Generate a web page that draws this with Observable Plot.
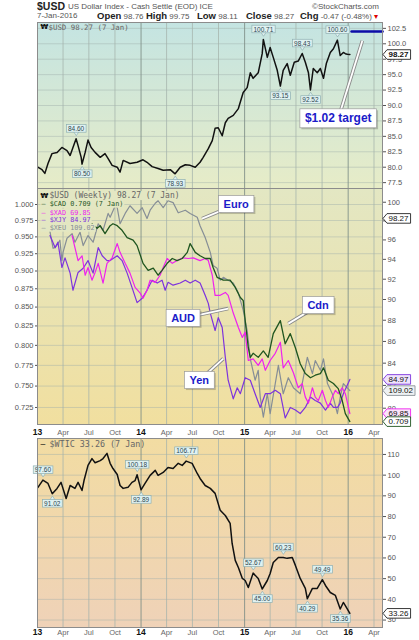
<!DOCTYPE html>
<html><head><meta charset="utf-8">
<script src="https://cdn.jsdelivr.net/npm/d3@7"></script>
<script src="https://cdn.jsdelivr.net/npm/@observablehq/plot@0.6"></script>
<style>
body{margin:0;background:#fff;}
#wrap{position:relative;width:419px;height:640px;overflow:hidden;background:#fff;font-family:"Liberation Sans",Arial,sans-serif;}
.panel{position:absolute;left:0;width:419px;}
.h{position:absolute;white-space:nowrap;line-height:1;color:#555;font-family:"Liberation Sans",Arial,sans-serif;font-size:8px;}
.h b{font-size:9.5px;color:#222;}
</style></head><body>
<div id="wrap">
<svg width="0" height="0" style="position:absolute"><defs>
<linearGradient id="gTop" x1="0" y1="0" x2="0" y2="1"><stop offset="0" stop-color="#c4e4e2"/><stop offset="1" stop-color="#e7ecc7"/></linearGradient>
<linearGradient id="gMid" x1="0" y1="0" x2="0" y2="1"><stop offset="0" stop-color="#e3e7c3"/><stop offset="1" stop-color="#f1df9f"/></linearGradient>
<linearGradient id="gBot" x1="0" y1="0" x2="0" y2="1"><stop offset="0" stop-color="#f2dca2"/><stop offset="1" stop-color="#efd2b8"/></linearGradient>
</defs></svg>
<span class="h" style="left:37px;top:1px;font-size:10.5px;font-weight:bold;color:#222">$USD</span>
<span class="h" style="left:68px;top:3px;">US Dollar Index - Cash Settle (EOD) ICE</span>
<span class="h" style="left:312px;top:3px;">©StockCharts.com</span>
<span class="h" style="left:37px;top:12px;">7-Jan-2016</span>
<span class="h" style="left:97px;top:11px;"><b>Open</b> 98.76</span>
<span class="h" style="left:146px;top:11px;"><b>High</b> 99.75</span>
<span class="h" style="left:197px;top:11px;"><b>Low</b> 98.11</span>
<span class="h" style="left:246px;top:11px;"><b>Close</b> 98.27</span>
<span class="h" style="left:300px;top:11px;"><b>Chg</b> -0.47 (-0.48%) <span style="color:#d00">▾</span></span>
<div id="p1" class="panel" style="top:18px"></div>
<div id="p2" class="panel" style="top:186px"></div>
<div id="p3" class="panel" style="top:436px"></div>
</div>
<script>
// ---------- tick labels ----------
const monthTickDates = ["2013-04-01","2013-07-01","2013-10-01","2014-04-01","2014-07-01","2014-10-01","2015-04-01","2015-07-01","2015-10-01","2016-04-01"];
const monthTickLabels = ["Apr","Jul","Oct","Apr","Jul","Oct","Apr","Jul","Oct","Apr"];
const yearTickDates = ["2013-01-01","2014-01-01","2015-01-01","2016-01-01"];
const yearTickLabels = ["13","14","15","16"];
const usdTicks = [77.5,80,82.5,85,87.5,90,92.5,95,97.5,100,102.5];
const midLeftTicks = [0.725,0.75,0.775,0.8,0.825,0.85,0.875,0.9,0.925,0.95,0.975,1.0];
const midRightTicks = [80,82,84,86,88,90,92,94,96,98,100];
const wticTicks = [30,40,50,60,70,80,90,100,110];

// ---------- $USD daily (top panel) ----------
const usdSeries = [["2013-01-02",80.0],["2013-01-17",79.6],["2013-01-27",79.0],["2013-02-07",80.6],["2013-02-21",82.2],["2013-03-11",82.4],["2013-03-28",83.2],["2013-04-15",82.7],["2013-04-26",81.9],["2013-05-06",83.2],["2013-05-17",84.6],["2013-05-24",83.5],["2013-06-04",81.6],["2013-06-07",80.5],["2013-06-18",82.4],["2013-06-28",84.4],["2013-07-09",83.2],["2013-07-23",82.4],["2013-08-10",81.6],["2013-08-27",82.2],["2013-09-07",81.4],["2013-09-21",80.3],["2013-10-09",80.0],["2013-10-19",79.2],["2013-10-30",81.1],["2013-11-23",80.6],["2013-12-18",80.8],["2014-01-08",81.2],["2014-01-22",80.8],["2014-02-09",80.1],["2014-03-02",79.8],["2014-03-20",79.5],["2014-04-14",79.6],["2014-05-01",78.93],["2014-05-19",80.0],["2014-06-06",80.4],["2014-06-23",80.3],["2014-07-11",80.0],["2014-07-28",80.8],["2014-08-08",81.6],["2014-08-26",83.0],["2014-09-09",84.3],["2014-09-19",86.3],["2014-09-30",86.4],["2014-10-14",85.1],["2014-10-25",87.2],["2014-11-04",87.9],["2014-11-22",88.4],["2014-12-10",89.5],["2014-12-27",92.1],["2015-01-10",92.9],["2015-01-21",95.3],["2015-01-31",94.4],["2015-02-18",95.3],["2015-03-04",98.4],["2015-03-08",100.71],["2015-03-22",97.8],["2015-04-01",99.4],["2015-04-12",97.8],["2015-04-26",95.7],["2015-05-07",93.15],["2015-05-17",95.7],["2015-05-31",96.8],["2015-06-11",94.9],["2015-06-25",97.0],["2015-07-09",97.2],["2015-07-23",98.43],["2015-08-03",97.0],["2015-08-14",95.3],["2015-08-21",92.52],["2015-08-31",96.0],["2015-09-14",95.3],["2015-09-25",96.0],["2015-10-06",94.4],["2015-10-16",96.8],["2015-10-30",98.6],["2015-11-10",99.2],["2015-11-24",100.60],["2015-12-04",98.1],["2015-12-15",98.6],["2015-12-22",98.4],["2015-12-29",98.3],["2016-01-07",98.27]];
const usdFlags = [["2013-05-17",84.60,"up"],["2013-06-07",80.50,"down"],["2014-05-01",78.93,"down"],["2015-03-08",100.71,"up"],["2015-05-07",93.15,"down"],["2015-07-23",98.43,"up"],["2015-08-21",92.52,"down"],["2015-11-24",100.60,"up"]];
const usdTarget = [["2016-01-13",102],["2016-05-01",102]];
const usdLast = 98.27;

// ---------- weekly overlays (middle panel), plotted on the $CAD scale ----------
const cadSeries = [["2013-07-12",0.970],["2013-07-30",0.963],["2013-08-10",0.967],["2013-08-27",0.955],["2013-09-14",0.967],["2013-09-24",0.970],["2013-10-09",0.967],["2013-10-26",0.960],["2013-11-13",0.949],["2013-12-04",0.945],["2013-12-18",0.937],["2014-01-08",0.911],["2014-01-26",0.901],["2014-02-13",0.904],["2014-03-02",0.894],["2014-03-16",0.901],["2014-04-03",0.911],["2014-04-21",0.918],["2014-05-08",0.915],["2014-05-26",0.918],["2014-06-13",0.927],["2014-06-23",0.940],["2014-07-11",0.927],["2014-07-28",0.922],["2014-08-15",0.918],["2014-09-02",0.918],["2014-09-12",0.905],["2014-09-26",0.891],["2014-10-18",0.887],["2014-11-11",0.887],["2014-11-29",0.877],["2014-12-17",0.863],["2014-12-27",0.859],["2015-01-03",0.832],["2015-01-14",0.797],["2015-01-21",0.785],["2015-01-31",0.790],["2015-02-18",0.785],["2015-03-08",0.793],["2015-03-25",0.785],["2015-04-12",0.815],["2015-05-07",0.832],["2015-05-24",0.802],["2015-06-11",0.815],["2015-06-29",0.797],["2015-07-16",0.777],["2015-08-03",0.765],["2015-08-21",0.760],["2015-09-07",0.763],["2015-09-25",0.765],["2015-10-06",0.772],["2015-10-23",0.757],["2015-11-10",0.753],["2015-11-27",0.747],["2015-12-11",0.733],["2015-12-22",0.718],["2016-01-07",0.709]];
const xadSeries = [["2013-05-03",0.952],["2013-05-13",0.934],["2013-05-24",0.915],["2013-06-07",0.922],["2013-06-18",0.894],["2013-06-28",0.905],["2013-07-12",0.887],["2013-07-23",0.898],["2013-08-03",0.911],["2013-08-20",0.883],["2013-09-03",0.911],["2013-09-21",0.919],["2013-10-09",0.940],["2013-10-19",0.927],["2013-11-06",0.911],["2013-11-23",0.897],["2013-12-11",0.877],["2013-12-29",0.869],["2014-01-08",0.862],["2014-01-22",0.873],["2014-02-02",0.887],["2014-02-20",0.884],["2014-03-09",0.894],["2014-03-20",0.905],["2014-04-03",0.918],["2014-04-21",0.911],["2014-05-08",0.915],["2014-05-29",0.919],["2014-06-16",0.918],["2014-07-04",0.919],["2014-07-28",0.915],["2014-08-15",0.918],["2014-08-26",0.915],["2014-09-09",0.894],["2014-09-19",0.866],["2014-10-07",0.866],["2014-10-25",0.870],["2014-11-04",0.866],["2014-11-22",0.842],["2014-12-10",0.823],["2014-12-24",0.810],["2015-01-03",0.817],["2015-01-14",0.781],["2015-01-31",0.783],["2015-02-18",0.775],["2015-03-04",0.783],["2015-03-15",0.769],["2015-04-01",0.781],["2015-04-19",0.790],["2015-05-07",0.804],["2015-05-17",0.772],["2015-06-04",0.781],["2015-06-22",0.766],["2015-07-09",0.748],["2015-07-23",0.753],["2015-08-03",0.737],["2015-08-14",0.730],["2015-08-28",0.748],["2015-09-07",0.737],["2015-09-18",0.733],["2015-10-02",0.745],["2015-10-13",0.733],["2015-10-23",0.725],["2015-11-06",0.737],["2015-11-17",0.745],["2015-11-27",0.741],["2015-12-11",0.748],["2015-12-22",0.741],["2016-01-07",0.718]];
const xjySeries = [["2013-02-14",0.952],["2013-03-04",0.934],["2013-03-14",0.942],["2013-03-28",0.905],["2013-04-08",0.919],["2013-04-26",0.897],["2013-05-06",0.873],["2013-05-24",0.898],["2013-06-11",0.904],["2013-06-28",0.915],["2013-07-16",0.897],["2013-08-03",0.934],["2013-08-17",0.922],["2013-09-03",0.915],["2013-09-14",0.915],["2013-10-09",0.922],["2013-10-26",0.915],["2013-11-13",0.897],["2013-11-30",0.877],["2013-12-18",0.856],["2014-01-05",0.862],["2014-01-22",0.873],["2014-02-09",0.887],["2014-02-27",0.883],["2014-03-16",0.887],["2014-03-27",0.873],["2014-04-06",0.884],["2014-04-24",0.880],["2014-05-19",0.883],["2014-06-06",0.887],["2014-06-23",0.883],["2014-07-11",0.887],["2014-07-28",0.883],["2014-08-15",0.866],["2014-08-26",0.855],["2014-09-02",0.842],["2014-09-19",0.819],["2014-09-30",0.836],["2014-10-14",0.823],["2014-10-25",0.785],["2014-11-04",0.757],["2014-11-22",0.735],["2014-12-06",0.748],["2014-12-17",0.741],["2015-01-03",0.760],["2015-01-21",0.757],["2015-02-07",0.741],["2015-02-25",0.725],["2015-03-15",0.741],["2015-04-01",0.741],["2015-04-19",0.745],["2015-05-07",0.741],["2015-05-24",0.713],["2015-06-11",0.725],["2015-06-29",0.722],["2015-07-16",0.718],["2015-08-03",0.725],["2015-08-21",0.737],["2015-09-07",0.733],["2015-09-25",0.730],["2015-10-13",0.722],["2015-10-30",0.730],["2015-11-10",0.725],["2015-11-24",0.725],["2015-12-04",0.730],["2015-12-15",0.741],["2016-01-07",0.758]];
const xeuSeries = [["2013-02-14",0.958],["2013-02-25",0.933],["2013-03-04",0.934],["2013-03-14",0.940],["2013-03-21",0.945],["2013-03-28",0.915],["2013-04-01",0.927],["2013-04-15",0.948],["2013-05-03",0.955],["2013-05-13",0.942],["2013-05-31",0.957],["2013-06-11",0.937],["2013-06-28",0.952],["2013-07-16",0.942],["2013-08-03",0.970],["2013-08-20",0.960],["2013-09-07",0.986],["2013-09-14",0.980],["2013-10-02",0.998],["2013-10-09",0.995],["2013-10-19",0.970],["2013-11-06",0.986],["2013-11-23",0.998],["2013-12-18",0.986],["2014-01-05",0.995],["2014-01-22",0.978],["2014-02-02",0.991],["2014-02-20",1.002],["2014-03-02",1.006],["2014-03-20",0.995],["2014-04-06",1.006],["2014-04-24",1.003],["2014-05-12",0.987],["2014-06-06",0.991],["2014-06-23",0.986],["2014-07-18",0.980],["2014-07-28",0.967],["2014-08-15",0.949],["2014-09-02",0.927],["2014-09-12",0.908],["2014-09-26",0.904],["2014-10-07",0.887],["2014-10-18",0.891],["2014-11-04",0.887],["2014-11-22",0.883],["2014-12-10",0.869],["2014-12-27",0.846],["2015-01-10",0.819],["2015-01-21",0.783],["2015-02-07",0.757],["2015-02-18",0.769],["2015-02-25",0.737],["2015-03-08",0.714],["2015-03-22",0.741],["2015-04-01",0.718],["2015-04-19",0.753],["2015-04-30",0.775],["2015-05-17",0.741],["2015-06-04",0.760],["2015-06-22",0.748],["2015-07-16",0.741],["2015-08-10",0.785],["2015-08-28",0.765],["2015-09-07",0.781],["2015-09-25",0.769],["2015-10-06",0.783],["2015-10-20",0.753],["2015-11-06",0.741],["2015-11-24",0.718],["2015-12-04",0.737],["2015-12-15",0.753],["2016-01-07",0.7447]];
const midLegendNames = ["$USD (Weekly) 98.27 (7 Jan)","— $CAD 0.709 (7 Jan)","— $XAD 69.85","— $XJY 84.97","— $XEU 109.02"];
const midLastLabels = ["98.27","84.97","109.02","69.85","0.709"];

// ---------- $WTIC (bottom panel) ----------
const wticSeries = [["2013-01-02",94.0],["2013-01-20",97.6],["2013-02-07",96.0],["2013-02-22",91.02],["2013-03-11",93.6],["2013-03-25",96.5],["2013-04-12",88.7],["2013-04-26",95.0],["2013-05-13",93.6],["2013-05-24",96.5],["2013-06-07",92.6],["2013-06-14",97.4],["2013-06-28",104.7],["2013-07-12",108.0],["2013-07-23",106.0],["2013-08-10",107.0],["2013-08-20",108.0],["2013-09-03",110.5],["2013-09-14",105.7],["2013-09-24",103.2],["2013-10-09",100.3],["2013-10-19",95.0],["2013-10-30",93.6],["2013-11-16",94.1],["2013-11-30",96.5],["2013-12-11",97.4],["2013-12-18",100.18],["2014-01-01",92.89],["2014-01-15",96.0],["2014-02-02",99.9],["2014-02-20",102.3],["2014-03-02",99.9],["2014-03-20",101.3],["2014-04-06",103.7],["2014-04-24",103.2],["2014-05-12",105.7],["2014-05-26",104.7],["2014-06-09",106.77],["2014-06-30",105.7],["2014-07-18",100.8],["2014-07-28",98.4],["2014-08-15",95.0],["2014-09-02",93.6],["2014-09-19",91.2],["2014-10-07",83.0],["2014-10-25",80.5],["2014-11-11",76.7],["2014-11-18",67.0],["2014-11-29",58.8],["2014-12-10",55.4],["2014-12-24",50.1],["2015-01-03",49.1],["2015-01-14",45.7],["2015-01-31",52.67],["2015-02-18",50.1],["2015-03-04",45.0],["2015-03-22",49.1],["2015-04-01",52.5],["2015-04-12",57.8],["2015-04-30",60.2],["2015-05-17",60.23],["2015-05-31",59.8],["2015-06-18",60.2],["2015-06-29",56.4],["2015-07-16",50.1],["2015-08-03",45.3],["2015-08-10",40.29],["2015-08-28",45.3],["2015-09-14",45.3],["2015-10-02",49.49],["2015-10-13",46.7],["2015-10-30",43.3],["2015-11-17",41.9],["2015-12-04",35.36],["2015-12-15",38.5],["2015-12-22",37.0],["2016-01-07",33.26]];
const wticFlags = [["2013-01-20",97.60,"up"],["2013-02-22",91.02,"down"],["2013-12-18",100.18,"up"],["2014-01-01",92.89,"down"],["2014-06-09",106.77,"up"],["2015-01-31",52.67,"up"],["2015-03-04",45.00,"down"],["2015-05-17",60.23,"up"],["2015-08-10",40.29,"down"],["2015-10-02",49.49,"up"],["2015-12-04",35.36,"down"]];
const wticLast = 33.26;

// ---------- callouts: [text, label date, label value, pointed date, pointed value] ----------
const topCallouts = [["$1.02 target","2015-11-27",87.9,"2016-02-20",100.5]];
const midCallouts = [["Euro","2014-12-02",1.000,"2014-08-04",0.978],["Cdn","2015-09-17",0.852,"2015-06-04",0.828],["AUD","2014-05-29",0.835,"2014-11-04",0.848],["Yen","2014-07-25",0.7566,"2014-10-18",0.7834]];

// ---------- helpers ----------
const rows = a => a.map(([d, v]) => ({date: new Date(d), value: v}));
const flagRows = a => a.map(([d, v, dir]) => ({date: new Date(d), value: v, dir, label: v.toFixed(2)}));
const calloutRows = a => a.map(([t, d, v, d2, v2]) => ({text: t, date: new Date(d), value: v, date2: new Date(d2), value2: v2}));
const X_DOMAIN = [new Date("2013-01-01"), new Date("2016-05-01")];
const monthDates = monthTickDates.map(d => new Date(d));
const yearDates = yearTickDates.map(d => new Date(d));
const monthLab = new Map(monthDates.map((d, i) => [+d, monthTickLabels[i]]));
const yearLab = new Map(yearDates.map((d, i) => [+d, yearTickLabels[i]]));
const midLeftDomain = [0.7057, 1.0257];
const midRightDomain = [78.6, 101.5];
const rightToLeft = u => midLeftDomain[0] * Math.pow(midLeftDomain[1] / midLeftDomain[0], Math.log(u / midRightDomain[0]) / Math.log(midRightDomain[1] / midRightDomain[0]));
const leftToRight = v => midRightDomain[0] * Math.pow(midRightDomain[1] / midRightDomain[0], Math.log(v / midLeftDomain[0]) / Math.log(midLeftDomain[1] / midLeftDomain[0]));

const FONT = "'Liberation Sans', Arial, sans-serif";
const MONO = "'DejaVu Sans Mono', monospace";
const baseStyle = {background: "transparent", overflow: "visible", fontFamily: FONT, fontSize: "7.5px", color: "#444"};
const common = {width: 419, marginLeft: 37, marginRight: 37};

function grids(yTicks) {
  return [
    Plot.gridY(yTicks, {stroke: "#9fb0aa", strokeOpacity: 0.45}),
    Plot.gridX(monthDates, {stroke: "#a4b3ab", strokeOpacity: 0.75}),
    Plot.gridX(yearDates, {stroke: "#7c8d86", strokeOpacity: 0.85})
  ];
}
function xAxes(pad) {
  return [
    Plot.axisX(monthDates, {anchor: "bottom", tickSize: 0, tickPadding: pad, tickFormat: d => monthLab.get(+d), fill: "#666", fontSize: 7.5, label: null}),
    Plot.axisX(yearDates, {anchor: "bottom", tickSize: 0, tickPadding: pad - 0.5, tickFormat: d => yearLab.get(+d), fill: "#111", fontWeight: "bold", fontSize: 8.5, label: null})
  ];
}
function flagMarks(data) {
  const opts = {x: "date", y: "value", text: "label", fontSize: 6.5, fill: "#2d4650", lineAnchor: "middle", fontFamily: FONT};
  return [
    Plot.text(data.filter(d => d.dir === "up"), {...opts, dy: -10, ariaDescription: "flag-up"}),
    Plot.text(data.filter(d => d.dir === "down"), {...opts, dy: 10, ariaDescription: "flag-down"})
  ];
}
function calloutMarks(data, fs) {
  return [
    Plot.link(data, {x1: "date", y1: "value", x2: "date2", y2: "value2", stroke: "#8a8a8a", strokeWidth: 3.6}),
    Plot.link(data, {x1: "date", y1: "value", x2: "date2", y2: "value2", stroke: "#fff", strokeWidth: 1.8}),
    Plot.text(data, {x: "date", y: "value", text: "text", fill: "#1b1bc9", fontWeight: "bold", fontSize: fs, fontFamily: FONT, ariaDescription: "callout"})
  ];
}

// ---------- panel 1 ----------
const usdRows = rows(usdSeries);
const p1 = Plot.plot({
  ...common, height: 172, marginTop: 4, marginBottom: 2, style: baseStyle,
  x: {type: "utc", domain: X_DOMAIN, axis: null},
  y: {domain: [76.55, 103.45], axis: null, label: null},
  marks: [
    Plot.frame({fill: "url(#gTop)", stroke: "none"}),
    ...grids(usdTicks),
    Plot.line(usdRows, {x: "date", y: "value", stroke: "#111", strokeWidth: 1.5, clip: true}),
    Plot.line(rows(usdTarget), {x: "date", y: "value", stroke: "#0c0ca8", strokeWidth: 2.6}),
    ...calloutMarks(calloutRows(topCallouts), 12),
    ...flagMarks(flagRows(usdFlags)),
    Plot.axisY(usdTicks, {anchor: "right", tickSize: 3, tickPadding: 2, tickFormat: d3.format(".1f"), color: "#555", fontSize: 7.5, label: null}),
    Plot.frame({stroke: "#8c8c8c"}),
    Plot.text(["₩"], {frameAnchor: "top-left", dx: 3, dy: 2, fill: "#111", fontWeight: "bold", fontSize: 7, fontFamily: "'DejaVu Sans'"}),
    Plot.text(["$USD 98.27 (7 Jan)"], {frameAnchor: "top-left", dx: 11, dy: 2, fill: "#666", fontSize: 7.4, fontFamily: MONO}),
    Plot.text([{value: usdLast, label: usdLast.toFixed(2)}], {frameAnchor: "right", y: "value", text: "label", dx: 6, textAnchor: "start", fontSize: 8, fill: "#111", fontWeight: "bold", ariaDescription: "rflag"})
  ]
});

// ---------- panel 2 ----------
const cadRows = rows(cadSeries), xadRows = rows(xadSeries), xjyRows = rows(xjySeries), xeuRows = rows(xeuSeries);
const lastOf = r => r[r.length - 1].value;
const midFlagData = [
  {value: rightToLeft(98.27), label: midLastLabels[0]},
  {value: lastOf(xjyRows), label: midLastLabels[1]},
  {value: lastOf(xeuRows), label: midLastLabels[2]},
  {value: lastOf(xadRows), label: midLastLabels[3]},
  {value: lastOf(cadRows), label: midLastLabels[4]}
];
const midColors = {cad: "#1f551f", xad: "#ee22ee", xjy: "#7d33dd", xeu: "#868e96"};
const legendRow = (txt, dy, fill, fs, dx) => Plot.text([txt], {frameAnchor: "top-left", lineAnchor: "middle", dx, dy, fill, fontSize: fs, fontFamily: MONO, ariaDescription: "legend"});
const p2 = Plot.plot({
  ...common, height: 252, marginTop: 2, marginBottom: 14, style: baseStyle,
  x: {type: "utc", domain: X_DOMAIN, axis: null},
  y: {type: "log", domain: midLeftDomain, axis: null, label: null},
  marks: [
    Plot.frame({fill: "url(#gMid)", stroke: "none"}),
    ...grids(midLeftTicks),
    Plot.line(xeuRows, {x: "date", y: "value", stroke: midColors.xeu, strokeWidth: 1.2, clip: true}),
    Plot.line(xjyRows, {x: "date", y: "value", stroke: midColors.xjy, strokeWidth: 1.2, clip: true}),
    Plot.line(xadRows, {x: "date", y: "value", stroke: midColors.xad, strokeWidth: 1.2, clip: true}),
    Plot.line(cadRows, {x: "date", y: "value", stroke: midColors.cad, strokeWidth: 1.3, clip: true}),
    ...calloutMarks(calloutRows(midCallouts), 11),
    legendRow(midLegendNames[0], 7, "#666", 8, 12),
    legendRow(midLegendNames[1], 15, midColors.cad, 6.8, 4),
    legendRow(midLegendNames[2], 24, midColors.xad, 6.8, 4),
    legendRow(midLegendNames[3], 31, midColors.xjy, 6.8, 4),
    legendRow(midLegendNames[4], 39, midColors.xeu, 6.8, 4),
    Plot.text(["₩"], {frameAnchor: "top-left", lineAnchor: "middle", dx: 3, dy: 7, fill: "#111", fontWeight: "bold", fontSize: 7, fontFamily: "'DejaVu Sans'"}),
    Plot.axisY(midLeftTicks, {anchor: "left", tickSize: 2, tickPadding: 2, tickFormat: d3.format(".3f"), color: "#555", fontSize: 7.5, label: null}),
    Plot.axisY(midRightTicks.map(rightToLeft), {anchor: "right", tickSize: 3, tickPadding: 2, tickFormat: v => String(Math.round(leftToRight(v))), color: "#555", fontSize: 7.5, label: null}),
    ...xAxes(5),
    Plot.frame({stroke: "#8c8c8c"}),
    Plot.text(midFlagData, {frameAnchor: "right", y: "value", text: "label", dx: 6, textAnchor: "start", fontSize: 8, fill: "#111", ariaDescription: "rflag"})
  ]
});

// ---------- panel 3 ----------
const p3 = Plot.plot({
  ...common, height: 204, marginTop: 2, marginBottom: 13, style: baseStyle,
  x: {type: "utc", domain: X_DOMAIN, axis: null},
  y: {domain: [26.4, 117.7], axis: null, label: null},
  marks: [
    Plot.frame({fill: "url(#gBot)", stroke: "none"}),
    ...grids(wticTicks),
    Plot.line(rows(wticSeries), {x: "date", y: "value", stroke: "#111", strokeWidth: 1.5, clip: true}),
    ...flagMarks(flagRows(wticFlags)),
    Plot.axisY(wticTicks, {anchor: "right", tickSize: 3, tickPadding: 2, color: "#555", fontSize: 7.5, label: null}),
    ...xAxes(2),
    Plot.frame({stroke: "#8c8c8c"}),
    Plot.text(["—"], {frameAnchor: "top-left", lineAnchor: "middle", dx: 3, dy: 6, fill: "#111", fontSize: 8, fontFamily: MONO}),
    Plot.text(["$WTIC 33.26 (7 Jan)"], {frameAnchor: "top-left", lineAnchor: "middle", dx: 12, dy: 6, fill: "#666", fontSize: 8.4, fontFamily: MONO}),
    Plot.text([{value: wticLast, label: wticLast.toFixed(2)}], {frameAnchor: "right", y: "value", text: "label", dx: 6, textAnchor: "start", fontSize: 8, fill: "#111", ariaDescription: "rflag"})
  ]
});

document.getElementById("p1").append(p1);
document.getElementById("p2").append(p2);
document.getElementById("p3").append(p3);

// ---------- label boxes drawn behind the library-placed texts ----------
const NS = "http://www.w3.org/2000/svg";
const el = (n, a) => { const e = document.createElementNS(NS, n); for (const k in a) e.setAttribute(k, a[k]); return e; };
const rflagStyle = {"98.27": ["#fff", "#222"], "84.97": ["#efe3fb", "#7d33dd"], "109.02": ["#eef1f3", "#8a9298"], "69.85": ["#fbe3fb", "#ee22ee"], "0.709": ["#fff", "#1f551f"], "33.26": ["#fff", "#222"]};
function boxify(svg, label, st) {
  svg.querySelectorAll(`g[aria-description="${label}"] text`).forEach(t => {
    const b = t.getBBox();
    const tr = t.getAttribute("transform");
    const [px, py] = st.pad;
    const x = b.x - px, y = b.y - py, w = b.width + 2 * px, h = b.height + 2 * py;
    const add = n => { if (tr) n.setAttribute("transform", tr); t.parentNode.insertBefore(n, t); };
    let fill = st.fill, stroke = st.stroke;
    if (st.rflag) { const s = rflagStyle[t.textContent] || ["#fff", "#222"]; fill = s[0]; stroke = s[1]; }
    if (st.shadow) add(el("rect", {x: x + 1.5, y: y + 1.5, width: w, height: h, fill: "#000", "fill-opacity": 0.2}));
    if (st.pointer === "down") add(el("polygon", {points: `${x + w / 2 - 3},${y + h - 1} ${x + w / 2 + 3},${y + h - 1} ${x + w / 2},${y + h + 3.5}`, fill, stroke, "stroke-width": 0.7}));
    if (st.pointer === "up") add(el("polygon", {points: `${x + w / 2 - 3},${y + 1} ${x + w / 2 + 3},${y + 1} ${x + w / 2},${y - 3.5}`, fill, stroke, "stroke-width": 0.7}));
    if (st.rflag) add(el("polygon", {points: `${x - 4},${y + h / 2} ${x},${y} ${x + w},${y} ${x + w},${y + h} ${x},${y + h}`, fill, stroke, "stroke-width": 0.9}));
    else add(el("rect", {x, y, width: w, height: h, fill, stroke: stroke || "none", "stroke-width": 0.7}));
  });
}
for (const svg of [p1, p2, p3]) {
  boxify(svg, "flag-up", {pad: [1.5, 0.3], fill: "#dff1f1", stroke: "#8fb0b2", pointer: "down"});
  boxify(svg, "flag-down", {pad: [1.5, 0.3], fill: "#dff1f1", stroke: "#8fb0b2", pointer: "up"});
  boxify(svg, "callout", {pad: [5, 2.5], fill: "#fff", stroke: "#9a9a9a", shadow: true});
  boxify(svg, "rflag", {pad: [1.5, 0.3], rflag: true});
}
boxify(p2, "legend", {pad: [1, 0], fill: "#e3e7c3"});
</script>
</body></html>
